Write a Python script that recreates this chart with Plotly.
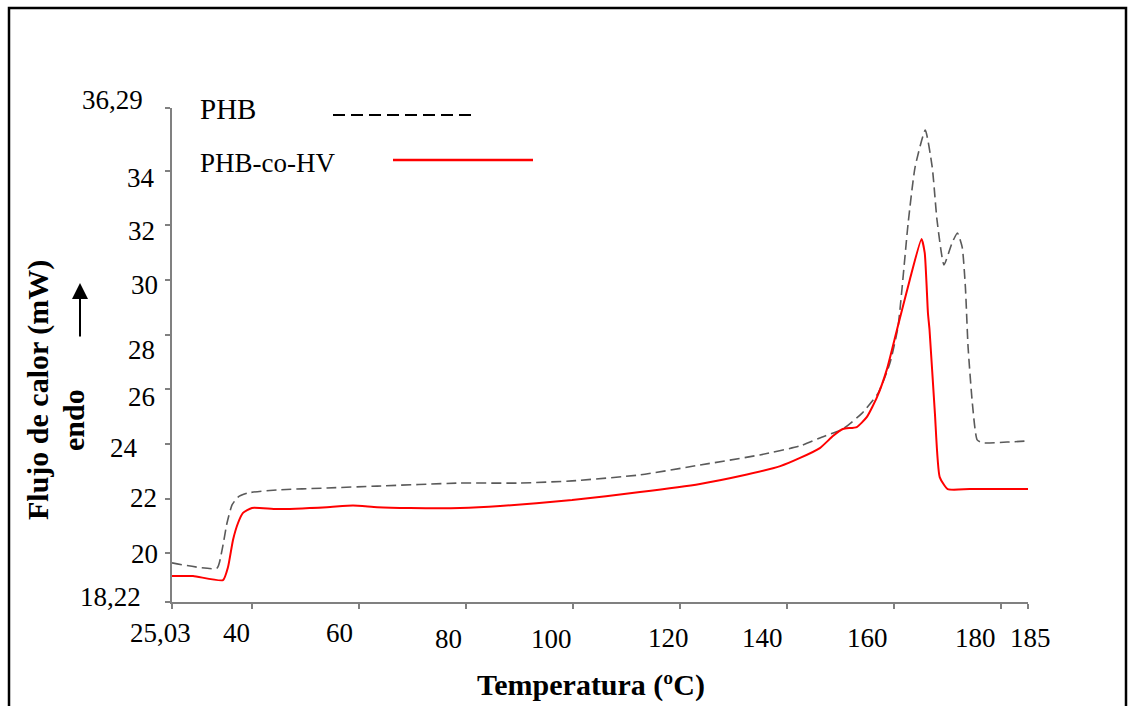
import plotly.graph_objects as go

# Curva DSC PHB
phb_temp = [25.03, 33.44, 34.38, 35.31, 36.25, 37.37, 39.24, 44.66, 54.00, 63.35, 78.86, 90.07,
            99.80, 112.5, 123.7, 134.9, 142.4, 146.1, 150.4, 154.0, 157.0, 159.2, 160.7, 162.6,
            163.9, 165.8, 167.1, 168.0, 169.3, 170.8, 171.8, 172.7, 173.3, 173.8, 174.6, 175.5,
            176.6, 181.1, 185.0]
phb_flujo = [19.65, 19.46, 20.12, 21.11, 21.77, 22.06, 22.21, 22.32, 22.39, 22.46, 22.57, 22.57,
             22.65, 22.87, 23.23, 23.60, 23.93, 24.22, 24.55, 25.13, 25.86, 26.96, 28.28, 32.08,
             34.13, 35.48, 34.13, 32.19, 30.55, 31.35, 31.72, 31.20, 29.74, 27.55, 25.50, 24.15,
             24.04, 24.07, 24.11]

# Curva DSC PHB-co-HV
phbhv_temp = [25.03, 28.96, 34.56, 35.50, 36.43, 37.37, 38.30, 39.98, 44.66, 54.00, 58.86, 63.35,
              69.52, 78.86, 86.34, 99.80, 112.5, 123.7, 131.2, 138.7, 142.4, 146.1, 148.6, 150.4,
              153.0, 154.9, 156.8, 158.6, 160.5, 162.9, 165.1, 165.7, 166.3, 166.6, 167.6, 168.5,
              170.0, 174.1, 185.0]
phbhv_flujo = [19.17, 19.17, 19.02, 19.50, 20.49, 21.11, 21.48, 21.66, 21.62, 21.69, 21.75, 21.69,
               21.66, 21.66, 21.73, 21.95, 22.24, 22.54, 22.83, 23.19, 23.49, 23.85, 24.30, 24.55,
               24.62, 24.99, 25.72, 26.71, 28.17, 30.00, 31.50, 30.99, 28.79, 28.17, 25.13, 22.79,
               22.35, 22.35, 22.35]

# Ticks
x_ticks = [25.03, 40, 60, 80, 100, 120, 140, 160, 180, 185]
x_labels = ["25,03", "40", "60", "80", "100", "120", "140", "160", "180", "185"]
y_ticks = [18.22, 20, 22, 24, 26, 28, 30, 32, 34, 36.29]
y_labels = ["18,22", "20", "22", "24", "26", "28", "30", "32", "34", "36,29"]

W, H = 1133, 706
L, R, T, B = 172, 1028, 108, 602
FONT = "Liberation Serif"


def px(x):
    return (x - L) / (R - L)


def py(y):
    return (B - y) / (B - T)


fig = go.Figure()
fig.add_trace(go.Scatter(x=phb_temp, y=phb_flujo, mode="lines", name="PHB",
                         line=dict(color="#5a5a5a", width=1.6, dash="10px,5px",
                                   shape="spline", smoothing=0.5)))
fig.add_trace(go.Scatter(x=phbhv_temp, y=phbhv_flujo, mode="lines", name="PHB-co-HV",
                         line=dict(color="#ff0000", width=2, shape="spline", smoothing=0.5)))

ann = []
# etiquetas eje x (desplazadas como en el original)
x_shift = [-12, -16, -20, -18, -22, -12, -25, -27, -26, 2]
x_ypos = [633, 633, 633, 639, 639, 638, 638, 638, 638, 638]
for v, t, dx, yy in zip(x_ticks, x_labels, x_shift, x_ypos):
    ann.append(dict(x=v, xref="x", y=py(yy), yref="paper", text=t, showarrow=False,
                    xanchor="center", yanchor="middle", xshift=dx,
                    font=dict(family=FONT, size=27, color="black")))
# etiquetas eje y
y_right = [143, 160, 159, 140, 157, 157, 160, 157, 157, 145]
y_shift = [5, -1, 1, -4, -8, -15, -5, -6, -7, 8]
for v, t, xr, dy in zip(y_ticks, y_labels, y_right, y_shift):
    ann.append(dict(x=px(xr), xref="paper", y=v, yref="y", text=t, showarrow=False,
                    xanchor="right", yanchor="middle", yshift=dy,
                    font=dict(family=FONT, size=27, color="black")))

ann += [
    dict(x=px(591), y=py(685), xref="paper", yref="paper", text="<b>Temperatura (ºC)</b>",
         showarrow=False, xanchor="center", yanchor="middle",
         font=dict(family=FONT, size=30, color="black")),
    dict(x=px(38), y=py(390), xref="paper", yref="paper", text="<b>Flujo de calor (mW)</b>",
         showarrow=False, textangle=-90, xanchor="center", yanchor="middle",
         font=dict(family=FONT, size=30, color="black")),
    dict(x=px(73), y=py(420), xref="paper", yref="paper", text="<b>endo</b>",
         showarrow=False, textangle=-90, xanchor="center", yanchor="middle",
         font=dict(family=FONT, size=30, color="black")),
    dict(x=px(80), y=py(283), xref="paper", yref="paper", text="", showarrow=True,
         ax=0, ay=55, arrowhead=2, arrowsize=1.6, arrowwidth=2, arrowcolor="black"),
    dict(x=px(198), y=py(109), xref="paper", yref="paper", text="PHB", showarrow=False,
         xanchor="left", yanchor="middle", font=dict(family=FONT, size=29, color="black")),
    dict(x=px(198), y=py(163), xref="paper", yref="paper", text="PHB-co-HV", showarrow=False,
         xanchor="left", yanchor="middle", font=dict(family=FONT, size=27, color="black")),
]

shapes = [
    dict(type="rect", xref="paper", yref="paper", x0=px(9), x1=px(1126), y0=py(730), y1=py(8),
         line=dict(color="black", width=2.5)),
    dict(type="line", xref="paper", yref="paper", x0=px(333), x1=px(475), y0=py(115), y1=py(115),
         line=dict(color="black", width=2, dash="12px,6px")),
    dict(type="line", xref="paper", yref="paper", x0=px(393), x1=px(533), y0=py(160), y1=py(160),
         line=dict(color="#ff0000", width=2.5)),
]

fig.update_layout(
    width=W, height=H,
    margin=dict(l=L, r=W - R, t=T, b=H - B),
    paper_bgcolor="white", plot_bgcolor="white",
    showlegend=False,
    annotations=ann, shapes=shapes,
    xaxis=dict(range=[25.03, 185], tickvals=x_ticks, showticklabels=False, showgrid=False,
               zeroline=False, showline=True, linecolor="#808080", linewidth=1.5,
               ticks="outside", ticklen=5, tickcolor="#808080", tickwidth=1.5),
    yaxis=dict(range=[18.22, 36.29], tickvals=y_ticks, showticklabels=False, showgrid=False,
               zeroline=False, showline=True, linecolor="#808080", linewidth=1.5,
               ticks="outside", ticklen=5, tickcolor="#808080", tickwidth=1.5),
)

# quitar el margen por defecto del body y la barra de herramientas
fig.write_html("out.html", config={"displayModeBar": False},
               post_script="document.body.style.margin='0';")
